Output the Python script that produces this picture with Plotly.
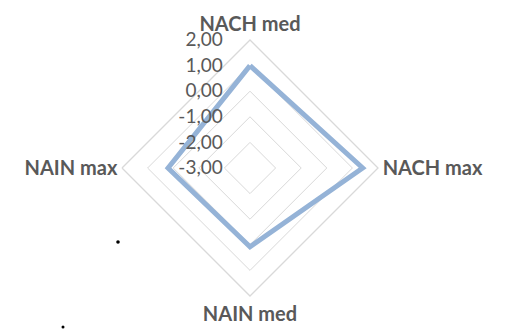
import plotly.graph_objects as go

categories = ["NACH med", "NACH max", "NAIN med", "NAIN max"]
values = [1.0, 1.4, 0.08, 0.2]
tick_vals = [-3, -2, -1, 0, 1, 2]
tick_text = ["-3,00", "-2,00", "-1,00", "0,00", "1,00", "2,00"]

W, H = 508, 333
cx, cy, R = 250, 168, 128
PAD = "\u2002\u2002\u00a0"  # spacing between tick labels and the axis

fig = go.Figure()
fig.add_trace(go.Scatterpolar(
    r=values + values[:1],
    theta=categories + categories[:1],
    mode="lines",
    line=dict(color="#95B3D7", width=5),
    showlegend=False,
    hoverinfo="skip",
))

fig.update_layout(
    width=W, height=H,
    margin=dict(l=0, r=0, t=0, b=0),
    paper_bgcolor="white",
    plot_bgcolor="white",
    font=dict(family="Lato, 'Open Sans', sans-serif", color="#595959"),
    polar=dict(
        domain=dict(x=[(cx - R) / W, (cx + R) / W],
                    y=[(H - cy - R) / H, (H - cy + R) / H]),
        bgcolor="white",
        gridshape="linear",
        radialaxis=dict(
            range=[-3, 2],
            tickvals=tick_vals,
            ticktext=[t + PAD for t in tick_text],
            angle=90,
            tickangle=90,
            side="counterclockwise",
            showline=False,
            ticks="",
            gridcolor="#D9D9D9",
            gridwidth=1.3,
            tickfont=dict(size=19, color="#595959", family="Lato, sans-serif"),
        ),
        angularaxis=dict(
            rotation=90,
            direction="clockwise",
            showgrid=False,
            showline=True,
            linecolor="#D9D9D9",
            linewidth=1.3,
            ticks="",
            tickfont=dict(size=20, color="#595959", family="Lato, sans-serif", weight="bold"),
        ),
    ),
    shapes=[
        dict(type="circle", xref="paper", yref="paper",
             x0=(118 - 1.8) / W, x1=(118 + 1.8) / W,
             y0=(H - 242 - 1.8) / H, y1=(H - 242 + 1.8) / H,
             fillcolor="black", line=dict(width=0)),
        dict(type="circle", xref="paper", yref="paper",
             x0=(63 - 1.5) / W, x1=(63 + 1.5) / W,
             y0=(H - 327 - 1.5) / H, y1=(H - 327 + 1.5) / H,
             fillcolor="black", line=dict(width=0)),
    ],
)

fig.write_html("out.html", config={"displayModeBar": False},
               post_script="document.body.style.margin='0';document.body.style.padding='0';")
